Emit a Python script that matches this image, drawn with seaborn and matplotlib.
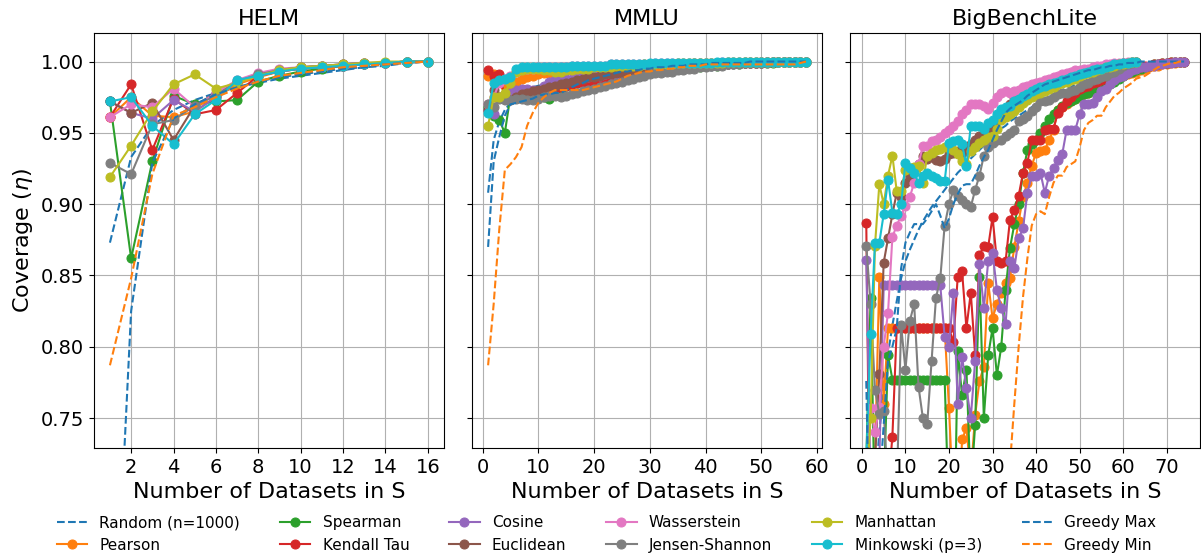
import matplotlib
matplotlib.use("Agg")
import matplotlib.pyplot as plt
from matplotlib.ticker import MultipleLocator
import seaborn as sns

# series names and colours (tab10 order as in the original)
names = ["Random (n=1000)", "Pearson", "Spearman", "Kendall Tau", "Cosine", "Euclidean",
         "Wasserstein", "Jensen-Shannon", "Manhattan", "Minkowski (p=3)", "Greedy Max", "Greedy Min"]
colors = ["tab:blue", "tab:orange", "tab:green", "tab:red", "tab:purple", "tab:brown",
          "tab:pink", "tab:gray", "tab:olive", "tab:cyan", "tab:blue", "tab:orange"]
dashed = ["Random (n=1000)", "Greedy Max", "Greedy Min"]
panels = ["HELM", "MMLU", "BigBenchLite"]
xtick_steps = [2, 10, 10]

# ---------------- HELM (x = 1..16) ----------------
helm_random = [0.873, 0.933, 0.955, 0.966, 0.973, 0.978, 0.982, 0.985, 0.988, 0.990, 0.992, 0.994, 0.996, 0.997, 0.999, 1.0]
helm_pearson = [0.961, 0.975, 0.962, 0.961, 0.965, 0.975, 0.984, 0.989, 0.993, 0.995, 0.996, 0.997, 0.998, 0.999, 1.0, 1.0]
helm_spearman = [0.972, 0.862, 0.930, 0.976, 0.970, 0.972, 0.973, 0.986, 0.990, 0.993, 0.995, 0.997, 0.998, 0.999, 1.0, 1.0]
helm_kendall = [0.961, 0.984, 0.938, 0.974, 0.963, 0.966, 0.978, 0.990, 0.993, 0.995, 0.996, 0.997, 0.998, 0.999, 1.0, 1.0]
helm_cosine = [0.972, 0.964, 0.960, 0.973, 0.965, 0.975, 0.986, 0.990, 0.993, 0.995, 0.996, 0.997, 0.998, 0.999, 1.0, 1.0]
helm_euclid = [0.972, 0.964, 0.971, 0.945, 0.969, 0.978, 0.986, 0.991, 0.994, 0.996, 0.997, 0.998, 0.999, 0.999, 1.0, 1.0]
helm_wasser = [0.961, 0.970, 0.968, 0.981, 0.968, 0.978, 0.987, 0.992, 0.995, 0.996, 0.997, 0.998, 0.999, 0.999, 1.0, 1.0]
helm_js = [0.929, 0.921, 0.956, 0.959, 0.969, 0.976, 0.986, 0.991, 0.994, 0.996, 0.997, 0.998, 0.999, 0.999, 1.0, 1.0]
helm_manhattan = [0.919, 0.941, 0.965, 0.984, 0.991, 0.981, 0.985, 0.990, 0.994, 0.996, 0.997, 0.998, 0.999, 1.0, 1.0, 1.0]
helm_minkowski = [0.972, 0.975, 0.955, 0.942, 0.963, 0.973, 0.987, 0.990, 0.993, 0.995, 0.996, 0.997, 0.998, 0.999, 1.0, 1.0]
helm_gmax = [0.52, 0.825, 0.929, 0.960, 0.970, 0.977, 0.982, 0.986, 0.989, 0.991, 0.993, 0.995, 0.996, 0.998, 0.999, 1.0]
helm_gmin = [0.787, 0.848, 0.921, 0.962, 0.968, 0.975, 0.981, 0.986, 0.990, 0.992, 0.994, 0.996, 0.997, 0.998, 0.999, 1.0]

# ---------------- MMLU (x = 1..58) ----------------
mmlu_random = [0.908, 0.945, 0.958, 0.966, 0.971, 0.975, 0.978, 0.980, 0.982, 0.983,
               0.984, 0.985, 0.986, 0.987, 0.988, 0.988, 0.989, 0.989, 0.990, 0.990,
               0.991, 0.991, 0.992, 0.992, 0.993, 0.993, 0.993, 0.994, 0.994, 0.994,
               0.995, 0.995, 0.995, 0.996, 0.996, 0.996, 0.996, 0.997, 0.997, 0.997,
               0.997, 0.997, 0.998, 0.998, 0.998, 0.998, 0.998, 0.998, 0.999, 0.999,
               0.999, 0.999, 0.999, 0.999, 0.999, 1.0, 1.0, 1.0]
mmlu_pearson = [0.990, 0.991, 0.987, 0.983, 0.984, 0.986, 0.988, 0.989, 0.990, 0.991,
                0.992, 0.992, 0.993, 0.993, 0.994, 0.994, 0.994, 0.995, 0.995, 0.995,
                0.995, 0.996, 0.996, 0.996, 0.996, 0.997, 0.997, 0.997, 0.997, 0.997,
                0.998, 0.998, 0.998, 0.998, 0.998, 0.998, 0.998, 0.999, 0.999, 0.999,
                0.999, 0.999, 0.999, 0.999, 0.999, 0.999, 1.0, 1.0, 1.0, 1.0,
                1.0, 1.0, 1.0, 1.0, 1.0, 1.0, 1.0, 1.0]
mmlu_spearman = [0.968, 0.962, 0.959, 0.950, 0.976, 0.977, 0.978, 0.978, 0.977, 0.976,
                 0.975, 0.974, 0.978, 0.981, 0.983, 0.984, 0.985, 0.986, 0.987, 0.988,
                 0.988, 0.989, 0.989, 0.990, 0.990, 0.991, 0.991, 0.992, 0.992, 0.993,
                 0.993, 0.994, 0.994, 0.995, 0.995, 0.995, 0.996, 0.996, 0.996, 0.997,
                 0.997, 0.997, 0.998, 0.998, 0.998, 0.998, 0.999, 0.999, 0.999, 0.999,
                 0.999, 0.999, 1.0, 1.0, 1.0, 1.0, 1.0, 1.0]
mmlu_kendall = [0.994, 0.990, 0.991, 0.975, 0.976, 0.977, 0.975, 0.976, 0.977, 0.978,
                0.979, 0.980, 0.981, 0.982, 0.983, 0.984, 0.985, 0.986, 0.986, 0.987,
                0.988, 0.989, 0.990, 0.990, 0.991, 0.992, 0.993, 0.993, 0.994, 0.994,
                0.995, 0.995, 0.995, 0.996, 0.996, 0.996, 0.997, 0.997, 0.997, 0.998,
                0.998, 0.998, 0.998, 0.999, 0.999, 0.999, 0.999, 0.999, 0.999, 1.0,
                1.0, 1.0, 1.0, 1.0, 1.0, 1.0, 1.0, 1.0]
mmlu_cosine = [0.966, 0.963, 0.975, 0.976, 0.978, 0.980, 0.981, 0.981, 0.980, 0.979,
               0.983, 0.986, 0.987, 0.987, 0.988, 0.988, 0.989, 0.989, 0.989, 0.990,
               0.990, 0.991, 0.991, 0.991, 0.992, 0.992, 0.992, 0.993, 0.993, 0.993,
               0.994, 0.994, 0.995, 0.995, 0.995, 0.996, 0.996, 0.996, 0.997, 0.997,
               0.997, 0.998, 0.998, 0.998, 0.998, 0.999, 0.999, 0.999, 0.999, 0.999,
               1.0, 1.0, 1.0, 1.0, 1.0, 1.0, 1.0, 1.0]
mmlu_euclid = [0.966, 0.980, 0.975, 0.974, 0.973, 0.975, 0.977, 0.978, 0.979, 0.980,
               0.981, 0.982, 0.983, 0.984, 0.985, 0.986, 0.987, 0.988, 0.989, 0.989,
               0.990, 0.991, 0.991, 0.992, 0.992, 0.993, 0.993, 0.994, 0.994, 0.994,
               0.995, 0.995, 0.995, 0.996, 0.996, 0.996, 0.997, 0.997, 0.997, 0.997,
               0.998, 0.998, 0.998, 0.998, 0.999, 0.999, 0.999, 0.999, 0.999, 0.999,
               1.0, 1.0, 1.0, 1.0, 1.0, 1.0, 1.0, 1.0]
mmlu_wasser = [0.970, 0.975, 0.985, 0.988, 0.990, 0.993, 0.995, 0.995, 0.995, 0.996,
               0.996, 0.996, 0.996, 0.996, 0.996, 0.997, 0.997, 0.997, 0.997, 0.997,
               0.997, 0.997, 0.998, 0.998, 0.998, 0.998, 0.998, 0.998, 0.998, 0.998,
               0.999, 0.999, 0.999, 0.999, 0.999, 0.999, 0.999, 0.999, 0.999, 0.999,
               0.999, 0.999, 1.0, 1.0, 1.0, 1.0, 1.0, 1.0, 1.0, 1.0,
               1.0, 1.0, 1.0, 1.0, 1.0, 1.0, 1.0, 1.0]
mmlu_js = [0.970, 0.968, 0.974, 0.973, 0.973, 0.974, 0.974, 0.973, 0.973, 0.974,
           0.975, 0.976, 0.976, 0.975, 0.976, 0.977, 0.978, 0.979, 0.980, 0.981,
           0.982, 0.983, 0.984, 0.985, 0.986, 0.987, 0.988, 0.989, 0.990, 0.991,
           0.992, 0.992, 0.993, 0.993, 0.994, 0.994, 0.995, 0.995, 0.996, 0.996,
           0.997, 0.997, 0.997, 0.998, 0.998, 0.998, 0.999, 0.999, 0.999, 0.999,
           0.999, 1.0, 1.0, 1.0, 1.0, 1.0, 1.0, 1.0]
mmlu_manhattan = [0.955, 0.975, 0.975, 0.978, 0.985, 0.993, 0.994, 0.995, 0.995, 0.995,
                  0.994, 0.994, 0.993, 0.993, 0.994, 0.994, 0.995, 0.995, 0.995, 0.996,
                  0.996, 0.996, 0.996, 0.997, 0.997, 0.997, 0.997, 0.997, 0.998, 0.998,
                  0.998, 0.998, 0.998, 0.998, 0.999, 0.999, 0.999, 0.999, 0.999, 0.999,
                  0.999, 0.999, 0.999, 1.0, 1.0, 1.0, 1.0, 1.0, 1.0, 1.0,
                  1.0, 1.0, 1.0, 1.0, 1.0, 1.0, 1.0, 1.0]
mmlu_minkowski = [0.964, 0.985, 0.987, 0.988, 0.989, 0.995, 0.996, 0.996, 0.996, 0.996,
                  0.996, 0.996, 0.996, 0.996, 0.996, 0.997, 0.997, 0.997, 0.997, 0.997,
                  0.997, 0.997, 0.998, 0.998, 0.998, 0.998, 0.998, 0.998, 0.998, 0.999,
                  0.999, 0.999, 0.999, 0.999, 0.999, 0.999, 0.999, 0.999, 0.999, 0.999,
                  0.999, 1.0, 1.0, 1.0, 1.0, 1.0, 1.0, 1.0, 1.0, 1.0,
                  1.0, 1.0, 1.0, 1.0, 1.0, 1.0, 1.0, 1.0]
mmlu_gmax = [0.870, 0.930, 0.947, 0.962, 0.970, 0.971, 0.972, 0.973, 0.974, 0.976,
             0.977, 0.977, 0.978, 0.978, 0.980, 0.982, 0.984, 0.985, 0.987, 0.988,
             0.989, 0.990, 0.991, 0.992, 0.993, 0.993, 0.994, 0.994, 0.995, 0.995,
             0.996, 0.996, 0.996, 0.997, 0.997, 0.997, 0.998, 0.998, 0.998, 0.998,
             0.999, 0.999, 0.999, 0.999, 0.999, 0.999, 0.999, 1.0, 1.0, 1.0,
             1.0, 1.0, 1.0, 1.0, 1.0, 1.0, 1.0, 1.0]
mmlu_gmin = [0.787, 0.830, 0.882, 0.924, 0.928, 0.933, 0.940, 0.955, 0.964, 0.971,
             0.975, 0.978, 0.980, 0.980, 0.980, 0.980, 0.980, 0.980, 0.981, 0.982,
             0.983, 0.984, 0.985, 0.986, 0.988, 0.990, 0.991, 0.992, 0.993, 0.993,
             0.994, 0.994, 0.995, 0.995, 0.996, 0.996, 0.997, 0.997, 0.997, 0.998,
             0.998, 0.998, 0.998, 0.998, 0.998, 0.998, 0.998, 0.998, 0.998, 0.998,
             0.998, 0.998, 0.998, 0.998, 0.998, 0.998, 0.999, 1.0]

# ---------------- BigBenchLite (x = 1..74, some end earlier) ----------------
bb_random = [0.60, 0.66, 0.70, 0.74, 0.77, 0.795, 0.815, 0.832, 0.848, 0.860,
             0.868, 0.875, 0.882, 0.888, 0.893, 0.898, 0.902, 0.906, 0.910, 0.914,
             0.918, 0.922, 0.925, 0.929, 0.932, 0.935, 0.938, 0.941, 0.944, 0.947,
             0.950, 0.953, 0.955, 0.958, 0.960, 0.962, 0.964, 0.966, 0.968, 0.970,
             0.972, 0.974, 0.975, 0.977, 0.978, 0.980, 0.981, 0.982, 0.984, 0.985,
             0.986, 0.987, 0.988, 0.989, 0.990, 0.991, 0.992, 0.993, 0.994, 0.995,
             0.995, 0.996, 0.996, 0.997, 0.997, 0.998, 0.998, 0.999, 0.999, 0.999,
             1.0, 1.0, 1.0, 1.0]
bb_pearson = [0.70, 0.62, 0.72, 0.849, 0.76, 0.813, 0.813, 0.813, 0.813, 0.813,
              0.813, 0.813, 0.813, 0.813, 0.813, 0.813, 0.813, 0.813, 0.813, 0.757,
              0.69, 0.66, 0.735, 0.743, 0.71, 0.752, 0.776, 0.786, 0.845, 0.820,
              0.830, 0.838, 0.845, 0.848, 0.870, 0.888, 0.905, 0.915, 0.927, 0.936,
              0.937, 0.938, 0.945, 0.952, 0.966, 0.968, 0.970, 0.972, 0.974, 0.976,
              0.977, 0.978, 0.980, 0.982, 0.983, 0.985, 0.986, 0.988, 0.989, 0.990,
              0.991, 0.992, 0.993, 0.994, 0.995, 0.996, 0.997, 0.997, 0.998, 0.998,
              0.999, 0.999, 1.0, 1.0]
bb_spearman = [0.72, 0.834, 0.68, 0.66, 0.70, 0.794, 0.777, 0.777, 0.777, 0.777,
               0.777, 0.777, 0.777, 0.777, 0.777, 0.777, 0.777, 0.777, 0.777, 0.68,
               0.62, 0.797, 0.766, 0.784, 0.70, 0.745, 0.849, 0.75, 0.794, 0.813,
               0.78, 0.80, 0.84, 0.869, 0.886, 0.90, 0.922, 0.938, 0.942, 0.945,
               0.950, 0.955, 0.960, 0.963, 0.966, 0.969, 0.971, 0.972, 0.974, 0.976,
               0.977, 0.978, 0.979, 0.980, 0.981, 0.982, 0.984, 0.986, 0.988, 0.990,
               0.992, 0.993, 0.994, 0.995, 0.996, 0.997, 0.998, 0.998, 0.999, 0.999,
               1.0, 1.0, 1.0, 1.0]
bb_kendall = [0.887, 0.62, 0.60, 0.64, 0.66, 0.70, 0.737, 0.813, 0.813, 0.813,
              0.813, 0.813, 0.813, 0.813, 0.813, 0.813, 0.813, 0.813, 0.813, 0.813,
              0.803, 0.849, 0.853, 0.813, 0.838, 0.794, 0.864, 0.871, 0.870, 0.891,
              0.860, 0.859, 0.860, 0.889, 0.896, 0.906, 0.922, 0.929, 0.945, 0.945,
              0.945, 0.952, 0.953, 0.953, 0.964, 0.968, 0.972, 0.975, 0.978, 0.981,
              0.982, 0.983, 0.985, 0.986, 0.987, 0.988, 0.991, 0.992, 0.993, 0.994,
              0.995, 0.995, 0.996, 0.996, 0.997, 0.997, 0.998, 0.998, 0.999, 0.999,
              1.0, 1.0, 1.0, 1.0]
bb_cosine = [0.861, 0.70, 0.66, 0.72, 0.843, 0.843, 0.843, 0.843, 0.843, 0.843,
             0.843, 0.843, 0.843, 0.843, 0.843, 0.843, 0.843, 0.843, 0.807, 0.800,
             0.838, 0.76, 0.793, 0.771, 0.75, 0.79, 0.858, 0.827, 0.860, 0.866,
             0.840, 0.827, 0.816, 0.860, 0.855, 0.876, 0.883, 0.908, 0.920, 0.920,
             0.922, 0.908, 0.920, 0.925, 0.931, 0.935, 0.952, 0.952, 0.952, 0.963,
             0.970, 0.970, 0.971, 0.975, 0.979, 0.981, 0.984, 0.987, 0.989, 0.990,
             0.992, 0.994, 0.995, 0.996, 0.996, 0.997, 0.997, 0.998, 0.998, 0.999,
             0.999, 1.0, 1.0, 1.0]
bb_euclid = [0.70, 0.65, 0.72, 0.781, 0.859, 0.876, 0.893, 0.908, 0.905, 0.915,
             0.920, 0.925, 0.928, 0.934, 0.932, 0.933, 0.931, 0.930, 0.932, 0.935,
             0.936, 0.937, 0.936, 0.938, 0.942, 0.945, 0.948, 0.950, 0.953, 0.956,
             0.960, 0.963, 0.966, 0.970, 0.975, 0.978, 0.979, 0.980, 0.981, 0.982,
             0.983, 0.984, 0.985, 0.986, 0.987, 0.988, 0.989, 0.990, 0.991, 0.992,
             0.993, 0.994, 0.995, 0.995, 0.996, 0.997, 0.997, 0.998, 0.998, 0.999,
             0.999, 1.0, 1.0]
bb_wasser = [0.70, 0.757, 0.74, 0.758, 0.80, 0.824, 0.877, 0.885, 0.892, 0.899,
             0.905, 0.915, 0.928, 0.941, 0.941, 0.944, 0.945, 0.947, 0.950, 0.952,
             0.955, 0.958, 0.963, 0.966, 0.970, 0.970, 0.970, 0.969, 0.967, 0.971,
             0.975, 0.978, 0.979, 0.978, 0.979, 0.980, 0.982, 0.983, 0.984, 0.985,
             0.986, 0.987, 0.988, 0.989, 0.990, 0.991, 0.992, 0.993, 0.994, 0.994,
             0.995, 0.995, 0.996, 0.997, 0.997, 0.998, 0.998, 0.999, 0.999, 0.999,
             1.0, 1.0, 1.0]
bb_js = [0.871, 0.83, 0.77, 0.753, 0.755, 0.70, 0.66, 0.70, 0.815, 0.784,
         0.818, 0.830, 0.772, 0.750, 0.746, 0.79, 0.834, 0.848, 0.885, 0.900,
         0.910, 0.906, 0.903, 0.900, 0.898, 0.910, 0.920, 0.934, 0.940, 0.943,
         0.945, 0.945, 0.948, 0.950, 0.952, 0.958, 0.960, 0.962, 0.965, 0.968,
         0.972, 0.972, 0.973, 0.975, 0.977, 0.978, 0.978, 0.979, 0.980, 0.982,
         0.984, 0.985, 0.987, 0.988, 0.989, 0.990, 0.992, 0.993, 0.995, 0.997,
         0.998, 0.999, 1.0]
bb_manhattan = [0.70, 0.75, 0.871, 0.914, 0.900, 0.920, 0.934, 0.909, 0.909, 0.924,
                0.925, 0.926, 0.927, 0.915, 0.934, 0.936, 0.938, 0.939, 0.940, 0.940,
                0.938, 0.935, 0.930, 0.928, 0.937, 0.940, 0.943, 0.945, 0.947, 0.948,
                0.953, 0.959, 0.961, 0.963, 0.965, 0.968, 0.971, 0.973, 0.975, 0.977,
                0.978, 0.979, 0.981, 0.982, 0.984, 0.985, 0.986, 0.987, 0.988, 0.990,
                0.991, 0.992, 0.993, 0.994, 0.995, 0.996, 0.996, 0.997, 0.998, 0.998,
                0.999, 1.0, 1.0]
bb_minkowski = [0.72, 0.809, 0.873, 0.873, 0.893, 0.917, 0.894, 0.893, 0.900, 0.929,
                0.925, 0.922, 0.915, 0.920, 0.922, 0.920, 0.918, 0.916, 0.916, 0.943,
                0.944, 0.945, 0.942, 0.927, 0.955, 0.955, 0.955, 0.953, 0.957, 0.959,
                0.963, 0.967, 0.968, 0.969, 0.972, 0.974, 0.976, 0.977, 0.979, 0.981,
                0.982, 0.983, 0.984, 0.985, 0.986, 0.987, 0.988, 0.989, 0.990, 0.991,
                0.992, 0.993, 0.994, 0.995, 0.995, 0.996, 0.997, 0.998, 0.998, 0.999,
                0.999, 1.0, 1.0]
bb_gmax = [0.776, 0.62, 0.66, 0.70, 0.745, 0.79, 0.80, 0.813, 0.855, 0.873,
           0.880, 0.886, 0.886, 0.886, 0.890, 0.895, 0.900, 0.892, 0.883, 0.890,
           0.900, 0.907, 0.913, 0.914, 0.914, 0.920, 0.927, 0.933, 0.938, 0.945,
           0.952, 0.958, 0.964, 0.967, 0.969, 0.971, 0.973, 0.976, 0.978, 0.980,
           0.982, 0.984, 0.985, 0.986, 0.987, 0.988, 0.989, 0.990, 0.991, 0.992,
           0.993, 0.994, 0.994, 0.995, 0.996, 0.996, 0.997, 0.997, 0.998, 0.998,
           0.999, 0.999, 0.999, 1.0, 1.0, 1.0, 1.0, 1.0, 1.0, 1.0,
           1.0, 1.0, 1.0, 1.0]
bb_gmin = [0.30, 0.35, 0.38, 0.41, 0.43, 0.45, 0.47, 0.49, 0.50, 0.51,
           0.52, 0.53, 0.54, 0.55, 0.56, 0.57, 0.58, 0.59, 0.60, 0.61,
           0.615, 0.62, 0.625, 0.63, 0.635, 0.64, 0.645, 0.65, 0.655, 0.66,
           0.665, 0.67, 0.675, 0.717, 0.760, 0.800, 0.835, 0.862, 0.885, 0.893,
           0.895, 0.893, 0.905, 0.915, 0.920, 0.920, 0.926, 0.928, 0.930, 0.940,
           0.952, 0.957, 0.959, 0.962, 0.962, 0.968, 0.972, 0.976, 0.978, 0.981,
           0.983, 0.985, 0.988, 0.989, 0.990, 0.992, 0.994, 0.996, 0.997, 0.998,
           0.999, 0.999, 1.0, 1.0]

data = {
    "HELM": [helm_random, helm_pearson, helm_spearman, helm_kendall, helm_cosine, helm_euclid,
             helm_wasser, helm_js, helm_manhattan, helm_minkowski, helm_gmax, helm_gmin],
    "MMLU": [mmlu_random, mmlu_pearson, mmlu_spearman, mmlu_kendall, mmlu_cosine, mmlu_euclid,
             mmlu_wasser, mmlu_js, mmlu_manhattan, mmlu_minkowski, mmlu_gmax, mmlu_gmin],
    "BigBenchLite": [bb_random, bb_pearson, bb_spearman, bb_kendall, bb_cosine, bb_euclid,
                     bb_wasser, bb_js, bb_manhattan, bb_minkowski, bb_gmax, bb_gmin],
}

fig, axes = plt.subplots(1, 3, figsize=(12.01, 5.55), dpi=100, sharey=True)
fig.subplots_adjust(left=0.0783, right=0.9992, top=0.9405, bottom=0.1928, wspace=0.0815)

for ax, panel, step in zip(axes, panels, xtick_steps):
    for name, color, ys in zip(names, colors, data[panel]):
        xs = list(range(1, len(ys) + 1))
        if name in dashed:
            sns.lineplot(x=xs, y=ys, ax=ax, color=color, linestyle="--",
                         linewidth=1.5, label=name, legend=False)
        else:
            sns.lineplot(x=xs, y=ys, ax=ax, color=color, marker="o", markersize=6.5,
                         markeredgecolor=color, linewidth=1.5, label=name, legend=False)
    if ax.get_legend() is not None:
        ax.get_legend().remove()
    ax.xaxis.set_major_locator(MultipleLocator(step))
    ax.set_title(panel, fontsize=16)
    ax.set_xlabel("Number of Datasets in S", fontsize=16)
    ax.grid(True)
    ax.tick_params(labelsize=14)

axes[0].set_ylim(0.729, 1.02)
axes[0].set_yticks([0.75, 0.80, 0.85, 0.90, 0.95, 1.00])
axes[0].set_yticklabels(["0.75", "0.80", "0.85", "0.90", "0.95", "1.00"])
axes[0].set_ylabel(r"Coverage ($\eta$)", fontsize=16)
for ax in axes[1:]:
    ax.set_ylabel("")

handles, labels = axes[0].get_legend_handles_labels()
fig.legend(handles, labels, loc="center", bbox_to_anchor=(0.505, 0.038), ncol=6,
           frameon=False, fontsize=11, columnspacing=2.6, handlelength=2)

fig.savefig("out.png", dpi=100)
